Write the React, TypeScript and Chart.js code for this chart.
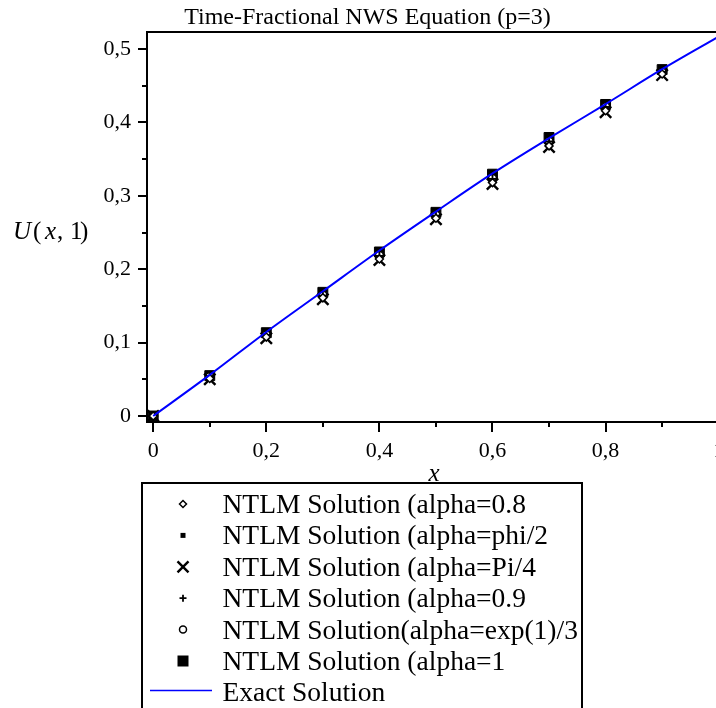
import React, { useEffect, useRef } from "react";
import { Chart, registerables } from "chart.js";

Chart.register(...registerables);

const SERIF = "'Liberation Serif', 'Times New Roman', Times, serif";

const titleText = "Time-Fractional NWS Equation (p=3)";
const xAxisLabel = "x";

const xValues = [0, 0.1, 0.2, 0.3, 0.4, 0.5, 0.6, 0.7, 0.8, 0.9];
const alpha08 = [0, 0.051, 0.1075, 0.161, 0.214, 0.2695, 0.318, 0.368, 0.416, 0.466];
const alphaPhi2 = [0, 0.0515, 0.108, 0.1615, 0.2145, 0.27, 0.3185, 0.3685, 0.4165, 0.4665];
const alphaPi4 = [0, 0.05, 0.106, 0.159, 0.2125, 0.268, 0.316, 0.3665, 0.414, 0.4645];
const alpha09 = [0, 0.053, 0.11, 0.164, 0.218, 0.273, 0.323, 0.374, 0.421, 0.468];
const alphaExp3 = [0, 0.0535, 0.1105, 0.1645, 0.2185, 0.2735, 0.3235, 0.3745, 0.4215, 0.4685];
const alpha1 = [0, 0.055, 0.1135, 0.1685, 0.2235, 0.2775, 0.3295, 0.3795, 0.4245, 0.472];

const exactX = [0, 0.1, 0.2, 0.3, 0.4, 0.5, 0.6, 0.7, 0.8, 0.9, 1.0];
const exactY = [0, 0.056, 0.1145, 0.17, 0.2255, 0.2785, 0.3305, 0.3785, 0.425, 0.4725, 0.517];

const xTickValues = [0, 0.2, 0.4, 0.6, 0.8, 1];
const xTickLabels = ["0", "0,2", "0,4", "0,6", "0,8", "1"];
const xMinorTicks = [0.1, 0.3, 0.5, 0.7, 0.9];
const yTickValues = [0, 0.1, 0.2, 0.3, 0.4, 0.5];
const yTickLabels = ["0", "0,1", "0,2", "0,3", "0,4", "0,5"];
const yMinorTicks = [0.05, 0.15, 0.25, 0.35, 0.45];

const X_MIN = -0.011;
const X_MAX = 1.06;
const Y_MIN = -0.0082;
const Y_MAX = 0.5232;

const seriesLabels = [
  "NTLM Solution (alpha=0.8",
  "NTLM Solution (alpha=phi/2",
  "NTLM Solution (alpha=Pi/4",
  "NTLM Solution (alpha=0.9",
  "NTLM Solution(alpha=exp(1)/3",
  "NTLM Solution (alpha=1",
  "Exact Solution",
];

type MarkerDef = { style: string; r: number; fill: string; lw: number; lr: number };
const markers: MarkerDef[] = [
  { style: "rectRot", r: 4, fill: "#ffffff", lw: 1.5, lr: 3.5 },
  { style: "rect", r: 3, fill: "#000000", lw: 1, lr: 2.5 },
  { style: "crossRot", r: 8, fill: "#000000", lw: 2.4, lr: 5.5 },
  { style: "cross", r: 5, fill: "#000000", lw: 1.8, lr: 3.5 },
  { style: "circle", r: 4, fill: "#ffffff", lw: 1.5, lr: 3.5 },
  { style: "rect", r: 7, fill: "#000000", lw: 1, lr: 5.5 },
];
const seriesValues = [alpha08, alphaPhi2, alphaPi4, alpha09, alphaExp3, alpha1];

function drawMarker(ctx: CanvasRenderingContext2D, m: MarkerDef, x: number, y: number) {
  const r = m.lr;
  ctx.save();
  ctx.strokeStyle = "#000";
  ctx.fillStyle = m.fill;
  ctx.lineWidth = m.lw;
  ctx.beginPath();
  if (m.style === "rectRot") {
    ctx.moveTo(x - r, y);
    ctx.lineTo(x, y - r);
    ctx.lineTo(x + r, y);
    ctx.lineTo(x, y + r);
    ctx.closePath();
    ctx.fill();
    ctx.stroke();
  } else if (m.style === "rect") {
    ctx.rect(x - r, y - r, 2 * r, 2 * r);
    ctx.fill();
  } else if (m.style === "crossRot") {
    ctx.moveTo(x - r, y - r);
    ctx.lineTo(x + r, y + r);
    ctx.moveTo(x + r, y - r);
    ctx.lineTo(x - r, y + r);
    ctx.stroke();
  } else if (m.style === "cross") {
    ctx.moveTo(x - r, y);
    ctx.lineTo(x + r, y);
    ctx.moveTo(x, y - r);
    ctx.lineTo(x, y + r);
    ctx.stroke();
  } else if (m.style === "circle") {
    ctx.arc(x, y, r, 0, Math.PI * 2);
    ctx.fill();
    ctx.stroke();
  }
  ctx.restore();
}

const decorPlugin = {
  id: "decor",
  afterDraw(chart: any) {
    const ctx: CanvasRenderingContext2D = chart.ctx;
    const { left, right, top, bottom } = chart.chartArea;
    const xs = chart.scales.x;
    const ys = chart.scales.y;
    ctx.save();
    ctx.strokeStyle = "#000";
    ctx.lineWidth = 2;
    // frame top
    ctx.beginPath();
    ctx.moveTo(left - 1, top);
    ctx.lineTo(right, top);
    ctx.stroke();
    // tick marks
    ctx.beginPath();
    yTickValues.forEach((v) => {
      const p = Math.round(ys.getPixelForValue(v));
      ctx.moveTo(left - 9, p);
      ctx.lineTo(left, p);
    });
    yMinorTicks.forEach((v) => {
      const p = Math.round(ys.getPixelForValue(v));
      ctx.moveTo(left - 5, p);
      ctx.lineTo(left, p);
    });
    xTickValues.forEach((v) => {
      const p = Math.round(xs.getPixelForValue(v));
      ctx.moveTo(p, bottom);
      ctx.lineTo(p, bottom + 10);
    });
    xMinorTicks.forEach((v) => {
      const p = Math.round(xs.getPixelForValue(v));
      ctx.moveTo(p, bottom);
      ctx.lineTo(p, bottom + 5);
    });
    ctx.stroke();

    // title
    ctx.fillStyle = "#000";
    ctx.font = `24px ${SERIF}`;
    ctx.textAlign = "center";
    ctx.textBaseline = "alphabetic";
    ctx.fillText(titleText, 367.5, 24);

    // x axis label
    ctx.font = `italic 25px ${SERIF}`;
    ctx.fillText(xAxisLabel, 434, 481);

    // y axis label U(x, 1)
    ctx.textAlign = "left";
    const yb = 239;
    const parts: [string, boolean, number][] = [
      ["U", true, 13],
      ["(", false, 33],
      ["x", true, 45],
      [",", false, 57],
      ["1", false, 70],
      [")", false, 80],
    ];
    parts.forEach(([t, it, px]) => {
      ctx.font = `${it ? "italic " : ""}25px ${SERIF}`;
      ctx.fillText(t, px, yb);
    });

    // legend
    const bx = 142, by = 483, bw = 440, bh = 300;
    ctx.lineWidth = 2;
    ctx.strokeRect(bx, by, bw, bh);
    ctx.save();
    ctx.beginPath();
    ctx.rect(bx + 1, by + 1, bw - 2, bh - 2);
    ctx.clip();
    ctx.font = `27.5px ${SERIF}`;
    ctx.textAlign = "left";
    ctx.fillStyle = "#000";
    seriesLabels.forEach((lab, i) => {
      const cy = 504 + 31.4 * i;
      if (i < markers.length) {
        drawMarker(ctx, markers[i], 183, cy);
      } else {
        ctx.strokeStyle = "#0000ff";
        ctx.lineWidth = 1.5;
        ctx.beginPath();
        ctx.moveTo(150, cy - 2);
        ctx.lineTo(212, cy - 2);
        ctx.stroke();
      }
      ctx.fillStyle = "#000";
      ctx.fillText(lab, 222.5, cy + 9);
    });
    ctx.restore();
    ctx.restore();
  },
};

export default function App() {
  const ref = useRef<HTMLCanvasElement>(null);
  useEffect(() => {
    if (!ref.current) return;
    const pointSets = seriesValues.map((vals, i) => ({
      type: "scatter" as const,
      label: seriesLabels[i],
      data: xValues.map((x, k) => ({ x, y: vals[k] })),
      pointStyle: markers[i].style,
      pointRadius: markers[i].r,
      pointBackgroundColor: markers[i].fill,
      pointBorderColor: "#000",
      pointBorderWidth: markers[i].lw,
      showLine: false,
      clip: false as any,
      order: 2,
    }));
    const chart = new Chart(ref.current, {
      type: "scatter",
      data: {
        datasets: [
          ...pointSets,
          {
            type: "scatter" as const,
            label: seriesLabels[6],
            data: exactX.map((x, k) => ({ x, y: exactY[k] })),
            showLine: true,
            borderColor: "#0000ff",
            borderWidth: 2,
            pointRadius: 0,
            cubicInterpolationMode: "monotone",
            order: 1,
          } as any,
        ],
      },
      options: {
        animation: false,
        responsive: false,
        events: [],
        layout: { padding: { top: 32, left: 0, right: 0, bottom: 0 } },
        plugins: {
          legend: { display: false },
          title: { display: false },
          tooltip: { enabled: false },
        },
        scales: {
          x: {
            type: "linear",
            min: X_MIN,
            max: X_MAX,
            grid: { display: false },
            border: { display: true, color: "#000", width: 2 },
            afterBuildTicks: (s: any) => {
              s.ticks = xTickValues.map((v) => ({ value: v }));
            },
            afterFit: (s: any) => {
              s.height = 286;
              s.paddingLeft = 0;
              s.paddingRight = 0;
            },
            ticks: {
              autoSkip: false,
              maxRotation: 0,
              padding: 8,
              color: "#000",
              font: { family: SERIF, size: 22 },
              callback: (v: any) => {
                const i = xTickValues.findIndex((t) => Math.abs(t - Number(v)) < 1e-9);
                return i >= 0 ? xTickLabels[i] : "";
              },
            },
          },
          y: {
            type: "linear",
            min: Y_MIN,
            max: Y_MAX,
            grid: { display: false },
            border: { display: true, color: "#000", width: 2 },
            afterBuildTicks: (s: any) => {
              s.ticks = yTickValues.map((v) => ({ value: v }));
            },
            afterFit: (s: any) => {
              s.width = 147;
              s.paddingTop = 0;
              s.paddingBottom = 0;
            },
            ticks: {
              autoSkip: false,
              padding: 8,
              color: "#000",
              font: { family: SERIF, size: 22 },
              callback: (v: any) => {
                const i = yTickValues.findIndex((t) => Math.abs(t - Number(v)) < 1e-9);
                return i >= 0 ? yTickLabels[i] : "";
              },
            },
          },
        },
      },
      plugins: [decorPlugin],
    });
    return () => chart.destroy();
  }, []);
  return (
    <div
      style={{
        position: "absolute",
        left: 0,
        top: 0,
        width: 716,
        height: 708,
        overflow: "hidden",
        background: "#fff",
      }}
    >
      <canvas ref={ref} width={763} height={708} style={{ width: 763, height: 708, display: "block" }} />
    </div>
  );
}
